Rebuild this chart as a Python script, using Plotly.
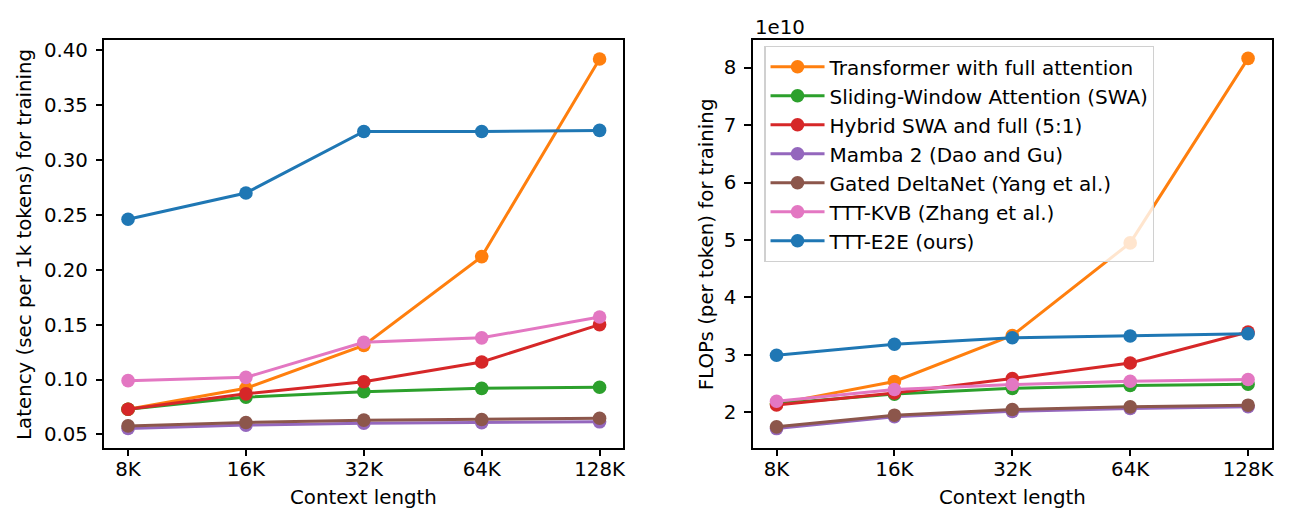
import plotly.graph_objects as go

contexts = ["8K", "16K", "32K", "64K", "128K"]
names = [
    "Transformer with full attention",
    "Sliding-Window Attention (SWA)",
    "Hybrid SWA and full (5:1)",
    "Mamba 2 (Dao and Gu)",
    "Gated DeltaNet (Yang et al.)",
    "TTT-KVB (Zhang et al.)",
    "TTT-E2E (ours)",
]
colors = ["#ff7f0e", "#2ca02c", "#d62728", "#9467bd", "#8c564b", "#e377c2", "#1f77b4"]

# Latency (sec per 1k tokens) for training
lat_transformer = [0.073, 0.092, 0.131, 0.212, 0.392]
lat_swa = [0.073, 0.084, 0.089, 0.092, 0.093]
lat_hybrid = [0.073, 0.087, 0.098, 0.116, 0.150]
lat_mamba = [0.0555, 0.0585, 0.0602, 0.0608, 0.0615]
lat_gdn = [0.0578, 0.0609, 0.0630, 0.0636, 0.0648]
lat_kvb = [0.099, 0.102, 0.134, 0.138, 0.157]
lat_e2e = [0.246, 0.270, 0.326, 0.326, 0.327]

# FLOPs (per token) for training, in units of 1e10
fl_transformer = [2.15, 2.54, 3.34, 4.95, 8.16]
fl_swa = [2.15, 2.32, 2.42, 2.47, 2.49]
fl_hybrid = [2.13, 2.34, 2.59, 2.86, 3.40]
fl_mamba = [1.72, 1.925, 2.02, 2.07, 2.10]
fl_gdn = [1.75, 1.953, 2.052, 2.098, 2.127]
fl_kvb = [2.196, 2.40, 2.486, 2.543, 2.573]
fl_e2e = [2.995, 3.186, 3.30, 3.33, 3.37]

lat_series = [lat_transformer, lat_swa, lat_hybrid, lat_mamba, lat_gdn, lat_kvb, lat_e2e]
fl_series = [fl_transformer, fl_swa, fl_hybrid, fl_mamba, fl_gdn, fl_kvb, fl_e2e]

FONT = "DejaVu Sans"
FS = 19.8
OFF = 8            # page body margin of the html page
W, H = 1302 - 2 * OFF, 523 - 2 * OFF

fig = go.Figure()

for i, (nm, col) in enumerate(zip(names, colors)):
    fig.add_trace(go.Scatter(
        x=contexts, y=lat_series[i], mode="lines+markers", name=nm,
        line=dict(color=col, width=3), marker=dict(color=col, size=13.6),
        xaxis="x", yaxis="y", showlegend=False, legendgroup=nm,
    ))
for i, (nm, col) in enumerate(zip(names, colors)):
    fig.add_trace(go.Scatter(
        x=contexts, y=fl_series[i], mode="lines+markers", name=nm,
        line=dict(color=col, width=3), marker=dict(color=col, size=13.6),
        xaxis="x2", yaxis="y2", showlegend=True, legendgroup=nm,
    ))

def px_x(p):
    return (p - OFF) / W

def px_y(p):
    return 1 - (p - OFF) / H

ydom = [px_y(447.7), px_y(39)]
common_axis = dict(
    showline=True, linecolor="black", linewidth=1.5, mirror=True,
    ticks="outside", ticklen=6.8, tickwidth=1.5, tickcolor="black",
    showgrid=False, zeroline=False,
    tickfont=dict(family=FONT, size=FS, color="black"),
)

fig.update_layout(
    width=W, height=H,
    margin=dict(l=0, r=0, t=0, b=0),
    paper_bgcolor="white", plot_bgcolor="white",
    font=dict(family=FONT, size=FS, color="black"),
    xaxis=dict(domain=[px_x(104.7), px_x(624.6)], type="category",
               range=[-0.2, 4.2], anchor="y", ticklabelstandoff=-4, **common_axis),
    yaxis=dict(domain=ydom, range=[0.0378, 0.4094], anchor="x",
               tickvals=[0.05, 0.10, 0.15, 0.20, 0.25, 0.30, 0.35, 0.40],
               tickformat=".2f", ticklabelstandoff=4, **common_axis),
    xaxis2=dict(domain=[px_x(754.7), px_x(1274.6)], type="category",
                range=[-0.2, 4.2], anchor="y2", ticklabelstandoff=-4, **common_axis),
    yaxis2=dict(domain=ydom, range=[1.385, 8.48], anchor="x2",
                tickvals=[2, 3, 4, 5, 6, 7, 8], tickformat="d",
                ticklabelstandoff=4, **common_axis),
    legend=dict(
        x=px_x(766), y=px_y(45), xanchor="left", yanchor="top",
        bgcolor="rgba(255,255,255,0.8)", bordercolor="#d0d0d0", borderwidth=1.3,
        font=dict(family=FONT, size=20, color="black"),
        tracegroupgap=0, itemwidth=54,
    ),
    annotations=[
        dict(text="Latency (sec per 1k tokens) for training", textangle=-90,
             x=px_x(25), y=px_y(243.4), xref="paper", yref="paper",
             xanchor="center", yanchor="middle", showarrow=False,
             font=dict(family=FONT, size=FS, color="black")),
        dict(text="FLOPs (per token) for training", textangle=-90,
             x=px_x(709), y=px_y(243.4), xref="paper", yref="paper",
             xanchor="center", yanchor="middle", showarrow=False,
             font=dict(family=FONT, size=FS, color="black")),
        dict(text="Context length", x=px_x(364.7), y=px_y(497.5),
             xref="paper", yref="paper", xanchor="center", yanchor="middle",
             showarrow=False, font=dict(family=FONT, size=FS, color="black")),
        dict(text="Context length", x=px_x(1014.7), y=px_y(497.5),
             xref="paper", yref="paper", xanchor="center", yanchor="middle",
             showarrow=False, font=dict(family=FONT, size=FS, color="black")),
        dict(text="1e10", x=px_x(754.5), y=px_y(27),
             xref="paper", yref="paper", xanchor="left", yanchor="middle",
             showarrow=False, font=dict(family=FONT, size=FS, color="black")),
    ],
)

fig.write_html("out.html")
